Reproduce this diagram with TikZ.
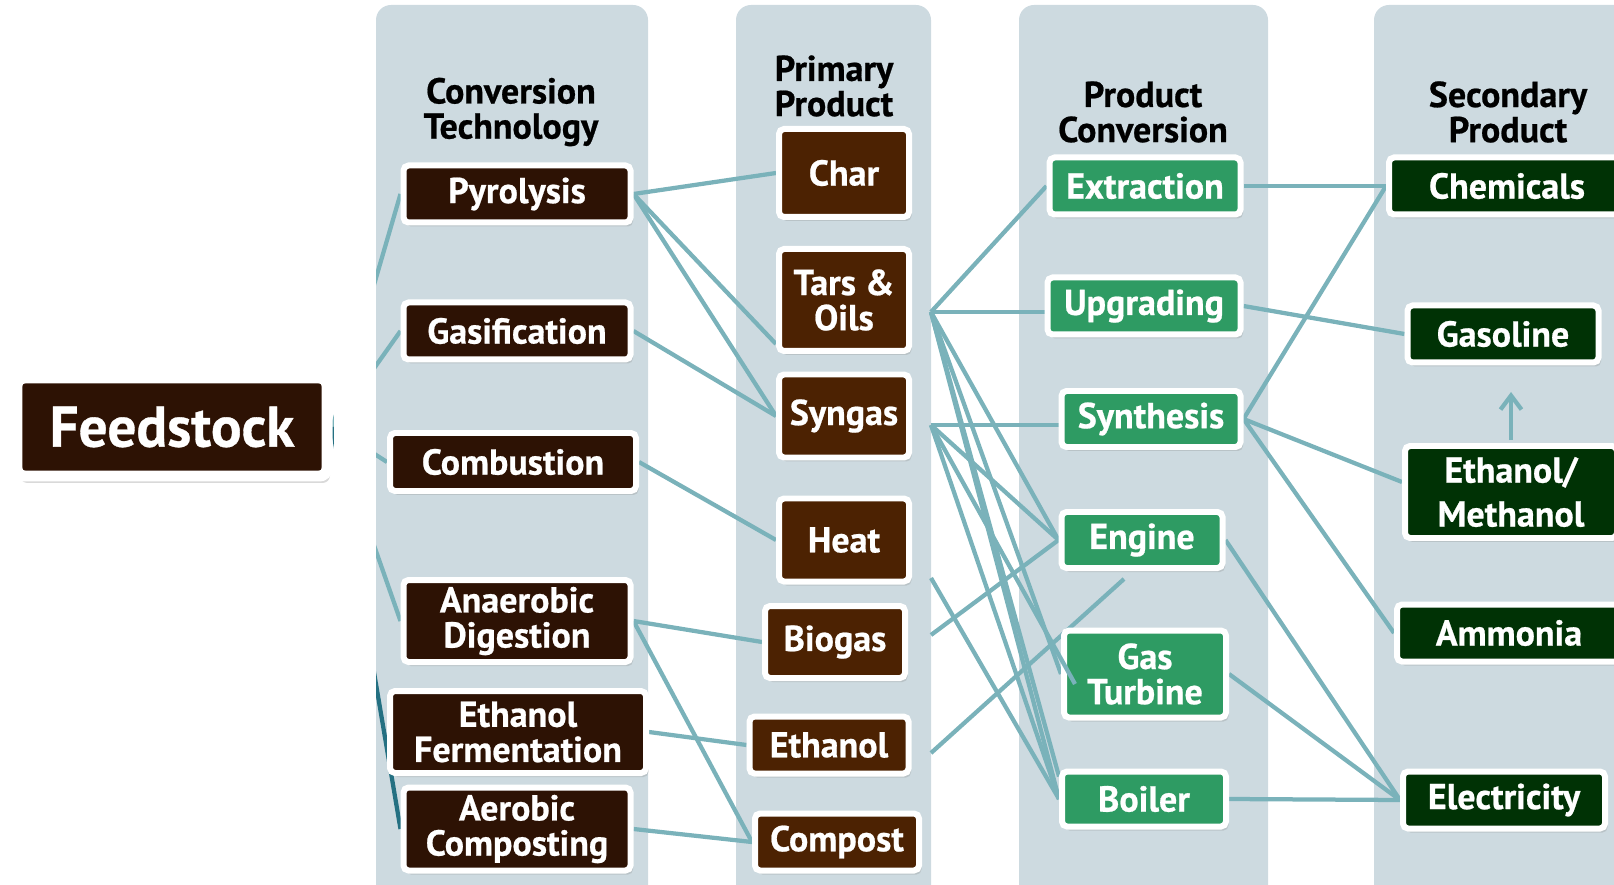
\documentclass[tikz,border=0pt]{standalone}
\usepackage{fontspec}
\setmainfont{PT Sans}[BoldFeatures={FakeBold=0.6}]
\usetikzlibrary{arrows.meta,calc,backgrounds,shadows}
\definecolor{bandbg}{RGB}{205,218,224}
\definecolor{techbrown}{RGB}{45,18,4}
\definecolor{primbrown}{RGB}{76,34,2}
\definecolor{convgreen}{RGB}{46,155,99}
\definecolor{secgreen}{RGB}{0,50,5}
\definecolor{linkteal}{RGB}{122,178,186}
\definecolor{darkteal}{RGB}{36,112,130}

\begin{document}
\begin{tikzpicture}[
  x=0.02cm,y=-0.02cm,
  font=\fontsize{20.5}{20}\selectfont\bfseries,
  band/.style={fill=bandbg,rounded corners=0.3cm},
  head/.style={align=center,text=black},
  box/.style={draw=white,line width=0.12cm,rounded corners=0.1cm,text=white,align=center,inner sep=0pt,
    drop shadow={opacity=0.25,shadow xshift=0.05cm,shadow yshift=-0.08cm}},
  feed/.style={box,fill=techbrown,line width=0.22cm,rounded corners=0.15cm,
    drop shadow={opacity=0.3,shadow xshift=0.06cm,shadow yshift=-0.14cm},
    font=\fontsize{32.5}{36}\selectfont\bfseries},
  tech/.style={box,fill=techbrown},
  prim/.style={box,fill=primbrown},
  conv/.style={box,fill=convgreen},
  sec/.style={box,fill=secgreen},
  dims/.style 2 args={minimum width=#1*0.02cm,minimum height=#2*0.02cm},
  link/.style={draw=linkteal,line width=0.085cm},
  dlink/.style={draw=darkteal,line width=0.085cm},
]
\useasboundingbox (0,0) rectangle (1614,885);
\clip (0,0) rectangle (1614,885);

\node[feed,dims={310}{98}] (feed) at (172,427) {Feedstock};

% column headers
\node[head] (h-tech) at (511,112) {Conversion\\Technology};
\node[head] (h-prim) at (834,86) {Primary\\Product};
\node[head] (h-conv) at (1143,112) {Product\\Conversion};
\node[head] (h-sec) at (1508,112) {Secondary\\Product};

% conversion technology
\node[tech,dims={227}{57}] (pyro) at (517,194) {Pyrolysis};
\node[tech,dims={227}{57}] (gasi) at (517,331) {Gasification};
\node[tech,dims={246}{58}] (comb) at (513,462) {Combustion};
\node[tech,dims={227}{82}] (anae) at (517,621) {Anaerobic\\Digestion};
\node[tech,dims={256}{82}] (ethf) at (518,732) {Ethanol\\Fermentation};
\node[tech,dims={227}{83}] (aero) at (517,829) {Aerobic\\Composting};

% primary product
\node[prim,dims={130}{88}] (char) at (844,173) {Char};
\node[prim,dims={130}{102}] (tars) at (844,300) {Tars \&\\Oils};
\node[prim,dims={130}{83}] (syng) at (844,416) {Syngas};
\node[prim,dims={130}{83}] (heat) at (844,540) {Heat};
\node[prim,dims={140}{72}] (biog) at (835,642) {Biogas};
\node[prim,dims={159}{57}] (etha) at (829,745) {Ethanol};
\node[prim,dims={164}{57}] (comp) at (837,842) {Compost};

% product conversion
\node[conv,dims={191}{57}] (extr) at (1145,186) {Extraction};
\node[conv,dims={193}{57}] (upgr) at (1144,306) {Upgrading};
\node[conv,dims={179}{56}] (synt) at (1151,419) {Synthesis};
\node[conv,dims={161}{56}] (engi) at (1142,540) {Engine};
\node[conv,dims={162}{87}] (turb) at (1145,674) {Gas\\Turbine};
\node[conv,dims={164}{55}] (boil) at (1144,799) {Boiler};

% secondary product
\node[sec,dims={236}{57}] (chem) at (1507,186) {Chemicals};
\node[sec,dims={191}{57}] (gaso) at (1503,334) {Gasoline};
\node[sec,dims={212}{92},font=\fontsize{20.5}{25}\selectfont\bfseries] (ethm) at (1511,492) {Ethanol/\\Methanol};
\node[sec,dims={224}{57}] (ammo) at (1509,633) {Ammonia};
\node[sec,dims={202}{57}] (elec) at (1504,800) {Electricity};

% links leave the primary products at the column edge
\coordinate (tars-out) at (931,312);
\coordinate (syng-out) at (931,425);
\coordinate (heat-out) at (931,578);
\coordinate (biog-out) at (931,635);
\coordinate (etha-out) at (931,753);

\begin{scope}[on background layer]
\fill[band] (376,5) rectangle (648,900);
\fill[band] (736,5) rectangle (931,900);
\fill[band] (1019,5) rectangle (1268,900);
\fill[band] (1374,5) rectangle (1660,900);

% feedstock links, cut before the first column
\foreach \t in {pyro,gasi,comb,anae}
  \draw[link] (feed.east) -- (\t.west);
\draw[dlink] (feed.east) -- (aero.west);
\fill[white] (334,0) rectangle (376,885);

\draw[link] (pyro.east) -- (char.west);
\draw[link] (pyro.east) -- ($(tars.south west)+(0,-10)$);
\draw[link] (pyro.east) -- (syng.west);
\draw[link] (gasi.east) -- (syng.west);
\draw[link] (comb.east) -- (heat.west);
\draw[link] (anae.east) -- (biog.west);
\draw[link] (anae.east) -- (comp.west);
\draw[link] (ethf.east) -- (etha.west);
\draw[link] (aero.east) -- (comp.west);

\draw[link] (tars-out) -- (extr.west);
\draw[link] (tars-out) -- (tars-out -| upgr.west);
\foreach \t in {engi.west,turb.west,boil.west}
  \draw[link] (tars-out) -- (\t);
\draw[link] (tars-out) -- ($(boil.north west)+(0,8)$);
\draw[link] (syng-out) -- (syng-out -| synt.west);
\draw[link] (syng-out) -- (engi.west);
\draw[link] (syng-out) -- (boil.west);
\draw[link] (heat-out) -- (boil.west);
\draw[link] (biog-out) -- (engi.west);
\draw[link] (etha-out) -- ($(engi.south)+(-18,8)$);

\draw[link] (extr.east) -- (chem.west);
\draw[link] (upgr.east) -- (gaso.west);
\draw[link] (synt.east) -- (chem.west);
\draw[link] (synt.east) -- ($(ethm.west)+(0,-10)$);
\draw[link] (synt.east) -- (ammo.west);
\foreach \s in {engi,turb,boil}
  \draw[link] (\s.east) -- (elec.west);
\end{scope}

\draw[link] (syng-out) -- ($(turb.west)+(14,10)$);
\draw[link,-{Straight Barb[length=0.28cm,width=0.42cm]},shorten <=0.06cm,shorten >=0.53cm]
  (ethm.north) -- (ethm.north |- gaso.south);
\end{tikzpicture}
\end{document}
